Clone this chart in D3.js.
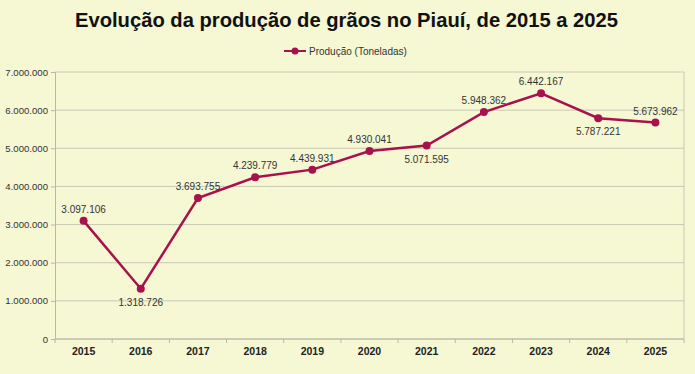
<!DOCTYPE html>
<html>
<head>
<meta charset="utf-8">
<script src="https://cdn.jsdelivr.net/npm/d3@7"></script>
<style>
  html, body { margin: 0; padding: 0; background: #f6f7d3; }
  svg { display: block; font-family: "Liberation Sans", Arial, sans-serif; }
</style>
</head>
<body>
<svg id="chart" width="695" height="374"></svg>
<script>
// Dados
const years = ["2015", "2016", "2017", "2018", "2019", "2020", "2021", "2022", "2023", "2024", "2025"];
const production = [3097106, 1318726, 3693755, 4239779, 4439931, 4930041, 5071595, 5948362, 6442167, 5787221, 5673962];
const labelBelow = [false, true, false, false, false, false, true, false, false, true, false];
const yTicks = [0, 1000000, 2000000, 3000000, 4000000, 5000000, 6000000, 7000000];

const lineColor = "#a8124c";
const width = 695, height = 374;
const margin = { top: 72, right: 11, bottom: 35, left: 55 };

const svg = d3.select("#chart");

const fmt = v => d3.format(",")(v).replace(/,/g, ".");

const x = d3.scaleBand()
    .domain(years)
    .range([margin.left, width - margin.right]);

const y = d3.scaleLinear()
    .domain([0, 7000000])
    .range([height - margin.bottom, margin.top]);

// Background
svg.append("rect")
    .attr("width", width)
    .attr("height", height)
    .attr("fill", "#f6f7d3");

// Title
svg.append("text")
    .attr("x", width / 2 - 1)
    .attr("y", 27)
    .attr("text-anchor", "middle")
    .attr("font-size", 20.2)
    .attr("font-weight", "bold")
    .attr("fill", "#111")
    .text("Evolução da produção de grãos no Piauí, de 2015 a 2025");

// Legend
const legend = svg.append("g").attr("transform", "translate(284, 51)");
legend.append("line")
    .attr("x1", 0).attr("x2", 22)
    .attr("stroke", lineColor)
    .attr("stroke-width", 2);
legend.append("circle")
    .attr("cx", 11).attr("r", 3.5)
    .attr("fill", lineColor);
legend.append("text")
    .attr("x", 25)
    .attr("y", 3.5)
    .attr("font-size", 10)
    .attr("fill", "#333")
    .text("Produção (Toneladas)");

// Horizontal gridlines
svg.append("g")
    .selectAll("line")
    .data(yTicks)
    .join("line")
    .attr("x1", margin.left)
    .attr("x2", width - margin.right)
    .attr("y1", d => y(d))
    .attr("y2", d => y(d))
    .attr("stroke", "#c8c8b4")
    .attr("stroke-width", 1);

// Right border
svg.append("line")
    .attr("x1", width - margin.right).attr("x2", width - margin.right)
    .attr("y1", margin.top).attr("y2", height - margin.bottom)
    .attr("stroke", "#c8c8b4");

// Y axis
const yAxis = svg.append("g")
    .attr("transform", `translate(${margin.left},0)`)
    .call(d3.axisLeft(y).tickValues(yTicks).tickSize(4).tickPadding(3).tickFormat(fmt));
yAxis.select(".domain").attr("stroke", "#b8b8a8");
yAxis.selectAll(".tick line").attr("stroke", "#b8b8a8");
yAxis.selectAll("text").attr("font-size", 9.6).attr("fill", "#333")
    .attr("font-family", "Liberation Sans, Arial, sans-serif");

// X axis: ticks on category boundaries
const xAxisG = svg.append("g")
    .attr("transform", `translate(0,${height - margin.bottom})`);
xAxisG.append("line")
    .attr("x1", margin.left).attr("x2", width - margin.right)
    .attr("stroke", "#b8b8a8");
const bounds = years.map(d => x(d)).concat([x(years[years.length - 1]) + x.bandwidth()]);
xAxisG.selectAll(".bt")
    .data(bounds)
    .join("line")
    .attr("class", "bt")
    .attr("x1", d => d).attr("x2", d => d)
    .attr("y1", 0).attr("y2", 4)
    .attr("stroke", "#b8b8a8");
xAxisG.selectAll(".xl")
    .data(years)
    .join("text")
    .attr("class", "xl")
    .attr("x", d => x(d) + x.bandwidth() / 2)
    .attr("y", 16)
    .attr("text-anchor", "middle")
    .attr("font-size", 10.5)
    .attr("font-weight", "bold")
    .attr("font-family", "Liberation Sans Narrow, Arial Narrow, sans-serif")
    .attr("fill", "#222")
    .text(d => d);

// Line
const cx = (d, i) => x(years[i]) + x.bandwidth() / 2;
const line = d3.line()
    .x(cx)
    .y(d => y(d));

svg.append("path")
    .datum(production)
    .attr("d", line)
    .attr("fill", "none")
    .attr("stroke", lineColor)
    .attr("stroke-width", 2.5);

svg.append("g")
    .selectAll("circle")
    .data(production)
    .join("circle")
    .attr("cx", cx)
    .attr("cy", d => y(d))
    .attr("r", 4)
    .attr("fill", lineColor);

// Data labels
svg.append("g")
    .selectAll("text")
    .data(production)
    .join("text")
    .attr("x", cx)
    .attr("y", (d, i) => y(d) + (labelBelow[i] ? 17 : -8))
    .attr("text-anchor", "middle")
    .attr("font-size", 10)
    .attr("fill", "#333")
    .text(d => fmt(d));
</script>
</body>
</html>
